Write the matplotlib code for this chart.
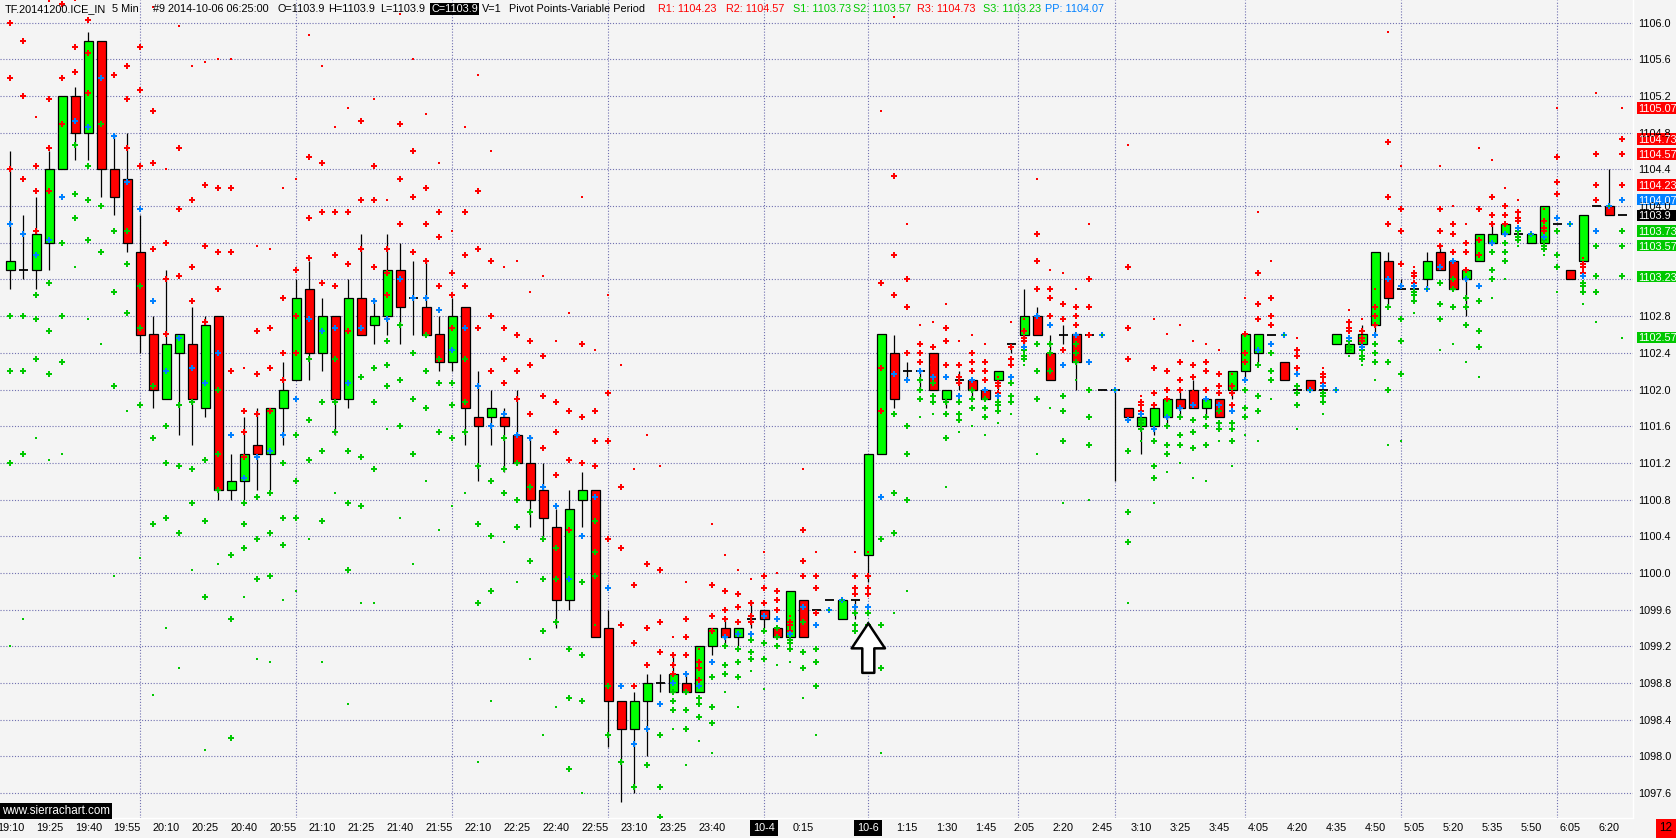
import matplotlib
matplotlib.use('Agg')
import matplotlib.pyplot as plt
import matplotlib.transforms as mtransforms
from matplotlib.patches import Rectangle

# 5 min bars, 19:10 (10-3) .. 6:25 (10-6)
opens = [1103.3, 1103.3, 1103.3, 1103.6, 1104.4, 1105.2, 1104.8, 1105.8, 1104.4, 1104.3,
         1103.5, 1102.6, 1101.9, 1102.4, 1102.5, 1101.8, 1102.8, 1100.9, 1101.0, 1101.4,
         1101.3, 1101.8, 1102.1, 1103.1, 1102.4, 1102.8, 1101.9, 1103.0, 1102.7, 1102.8,
         1103.3, 1103.0, 1102.9, 1102.6, 1102.3, 1102.9, 1101.7, 1101.7, 1101.7, 1101.5,
         1101.2, 1100.9, 1100.5, 1099.7, 1100.8, 1100.9, 1099.4, 1098.6, 1098.3, 1098.6,
         1098.8, 1098.7, 1098.8, 1098.7, 1099.2, 1099.4, 1099.3, 1099.5, 1099.6, 1099.4,
         1099.3, 1099.7, 1099.6, 1099.7, 1099.5, 1099.7, 1100.2, 1101.3, 1102.4, 1102.2,
         1102.2, 1102.4, 1101.9, 1102.1, 1102.1, 1102.0, 1102.1, 1102.5, 1102.6, 1102.8,
         1102.4, 1102.6, 1102.6, 1102.6, 1102.0, 1102.0, 1101.8, 1101.6, 1101.6, 1101.7,
         1101.9, 1102.0, 1101.8, 1101.9, 1102.0, 1102.2, 1102.4, 1102.6, 1102.3, 1102.0,
         1102.1, 1102.0, 1102.5, 1102.4, 1102.5, 1102.7, 1103.4, 1103.1, 1103.1, 1103.2,
         1103.5, 1103.4, 1103.2, 1103.4, 1103.6, 1103.7, 1103.7, 1103.6, 1103.6, 1103.8,
         1103.3, 1103.4, 1104.0, 1104.0, 1103.9]
highs = [1104.6, 1103.9, 1104.1, 1104.6, 1105.2, 1105.3, 1105.9, 1105.8, 1104.8, 1104.8,
         1103.9, 1102.8, 1103.3, 1102.6, 1102.9, 1102.8, 1102.8, 1101.3, 1101.7, 1101.8,
         1101.8, 1102.3, 1103.2, 1103.4, 1103.0, 1102.8, 1103.2, 1103.7, 1103.0, 1103.7,
         1103.6, 1103.4, 1103.4, 1102.8, 1103.0, 1102.9, 1102.2, 1102.0, 1101.8, 1102.0,
         1101.5, 1101.2, 1100.7, 1100.9, 1101.1, 1100.9, 1099.6, 1098.6, 1098.7, 1098.9,
         1098.9, 1099.1, 1098.9, 1099.2, 1099.4, 1099.5, 1099.4, 1099.7, 1099.6, 1099.4,
         1099.8, 1099.7, 1099.6, 1099.7, 1099.7, 1099.7, 1101.3, 1102.6, 1102.6, 1102.3,
         1102.2, 1102.4, 1102.0, 1102.2, 1102.1, 1102.0, 1102.2, 1102.5, 1103.1, 1102.9,
         1102.6, 1102.7, 1102.6, 1102.6, 1102.0, 1102.0, 1101.8, 1101.7, 1101.8, 1101.9,
         1102.0, 1102.1, 1101.9, 1101.9, 1102.2, 1102.6, 1102.6, 1102.6, 1102.3, 1102.0,
         1102.1, 1102.0, 1102.6, 1102.5, 1102.7, 1103.5, 1103.5, 1103.2, 1103.1, 1103.5,
         1103.6, 1103.4, 1103.3, 1103.7, 1103.8, 1103.8, 1103.7, 1103.7, 1104.0, 1103.8,
         1103.3, 1103.9, 1104.0, 1104.4, 1103.9]
lows = [1103.1, 1103.2, 1103.1, 1103.3, 1104.4, 1104.5, 1104.5, 1104.1, 1103.9, 1103.5,
        1102.4, 1101.8, 1101.9, 1101.5, 1101.4, 1101.7, 1100.8, 1100.8, 1100.8, 1100.9,
        1100.9, 1101.4, 1102.1, 1102.1, 1102.2, 1101.5, 1101.8, 1102.6, 1102.5, 1102.6,
        1102.5, 1102.6, 1102.6, 1102.2, 1102.2, 1101.4, 1101.0, 1101.4, 1101.1, 1101.2,
        1100.5, 1100.4, 1099.4, 1099.6, 1100.5, 1099.3, 1098.1, 1097.5, 1097.6, 1098.0,
        1098.7, 1098.7, 1098.7, 1098.7, 1099.1, 1099.2, 1099.2, 1099.4, 1099.4, 1099.3,
        1099.3, 1099.3, 1099.6, 1099.7, 1099.5, 1099.5, 1099.9, 1101.3, 1101.8, 1102.1,
        1102.0, 1102.0, 1101.8, 1102.0, 1101.9, 1101.9, 1102.0, 1102.4, 1102.5, 1102.6,
        1102.1, 1102.5, 1102.0, 1102.6, 1102.0, 1101.0, 1101.7, 1101.3, 1101.5, 1101.6,
        1101.7, 1101.8, 1101.7, 1101.7, 1101.9, 1102.1, 1102.3, 1102.6, 1102.1, 1102.0,
        1102.0, 1102.0, 1102.5, 1102.4, 1102.5, 1102.6, 1102.9, 1103.1, 1103.1, 1103.1,
        1103.3, 1103.1, 1102.8, 1103.4, 1103.6, 1103.7, 1103.7, 1103.6, 1103.6, 1103.8,
        1103.2, 1103.4, 1104.0, 1103.9, 1103.9]
closes = [1103.4, 1103.3, 1103.7, 1104.4, 1105.2, 1104.8, 1105.8, 1104.4, 1104.1, 1103.6,
          1102.6, 1102.0, 1102.5, 1102.6, 1101.9, 1102.7, 1100.9, 1101.0, 1101.3, 1101.3,
          1101.8, 1102.0, 1103.0, 1102.4, 1102.8, 1101.9, 1103.0, 1102.6, 1102.8, 1103.3,
          1102.9, 1103.0, 1102.6, 1102.3, 1102.8, 1101.8, 1101.6, 1101.8, 1101.6, 1101.2,
          1100.8, 1100.6, 1099.7, 1100.7, 1100.9, 1099.3, 1098.6, 1098.3, 1098.6, 1098.8,
          1098.8, 1098.9, 1098.7, 1099.2, 1099.4, 1099.3, 1099.4, 1099.5, 1099.5, 1099.3,
          1099.8, 1099.3, 1099.6, 1099.7, 1099.7, 1099.7, 1101.3, 1102.6, 1101.9, 1102.2,
          1102.2, 1102.0, 1102.0, 1102.1, 1102.0, 1101.9, 1102.2, 1102.5, 1102.8, 1102.6,
          1102.1, 1102.6, 1102.3, 1102.6, 1102.0, 1102.0, 1101.7, 1101.7, 1101.8, 1101.9,
          1101.8, 1101.8, 1101.9, 1101.7, 1102.2, 1102.6, 1102.6, 1102.6, 1102.1, 1102.0,
          1102.0, 1102.0, 1102.6, 1102.5, 1102.6, 1103.5, 1103.0, 1103.1, 1103.1, 1103.4,
          1103.3, 1103.1, 1103.3, 1103.7, 1103.7, 1103.8, 1103.7, 1103.7, 1104.0, 1103.8,
          1103.2, 1103.9, 1104.0, 1103.9, 1103.9]
# high / low / close of the 19:05 bar (not drawn, feeds the first pivot set)
prev_hlc = (1104.8, 1103.2, 1103.4)

tick_bars = [0, 3, 6, 9, 12, 15, 18, 21, 24, 27, 30, 33, 36, 39, 42, 45, 48, 51, 54,
             58, 61, 66, 69, 72, 75, 78, 81, 84, 87, 90, 93, 96, 99, 102, 105, 108,
             111, 114, 117, 120, 123]
tick_labels = ['19:10', '19:25', '19:40', '19:55', '20:10', '20:25', '20:40', '20:55',
               '21:10', '21:25', '21:40', '21:55', '22:10', '22:25', '22:40', '22:55',
               '23:10', '23:25', '23:40', '10-4', '0:15', '10-6', '1:15', '1:30', '1:45',
               '2:05', '2:20', '2:45', '3:10', '3:25', '3:45', '4:05', '4:20', '4:35',
               '4:50', '5:05', '5:20', '5:35', '5:50', '6:05', '6:20']
date_labels = ['10-4', '10-6']
hour_lines = [10, 22, 34, 46, 58, 66, 77.5, 85, 95, 107, 119]
price_ticks = [1097.6 + 0.4 * k for k in range(22)]

# current study values shown on the price scale
level_texts = ['1105.07', '1104.73', '1104.57', '1104.23', '1104.07', '1103.9',
               '1103.73', '1103.57', '1103.23', '1102.57']
level_kinds = ['r', 'r', 'r', 'r', 'p', 'c', 's', 's', 's', 's']

header_parts = [('TF.20141200.ICE_IN', 5, 'k'), ('5 Min', 112, 'k'),
                ('#9 2014-10-06 06:25:00', 153, 'k'), ('O=1103.9', 277, 'k'),
                ('H=1103.9', 328, 'k'), ('L=1103.9', 380, 'k'), ('C=1103.9', 431, 'box'),
                ('V=1', 482, 'k'), ('Pivot Points-Variable Period', 509, 'k'),
                ('R1: 1104.23', 658, 'r'), ('R2: 1104.57', 726, 'r'),
                ('S1: 1103.73', 793, 's'), ('S2: 1103.57', 853, 's'),
                ('R3: 1104.73', 917, 'r'), ('S3: 1103.23', 983, 's'),
                ('PP: 1104.07', 1045, 'p')]

RED = '#ff0000'
GREEN_DOT = '#00c800'
GREEN_BAR = '#00ff00'
BLUE = '#0080ff'
BG = '#f4f4f4'
GRID = '#7070b0'
kind_col = {'r': RED, 's': GREEN_DOT, 'p': BLUE, 'c': 'black', 'k': 'black'}

plt.rcParams['font.family'] = ['Liberation Sans', 'DejaVu Sans']
FS = 7.8

W, H = 1676, 838
fig = plt.figure(figsize=(W / 100, H / 100), dpi=100, facecolor=BG)
ax = fig.add_axes([0, 20 / H, 1633 / W, 818 / H])
ax.set_facecolor(BG)
ax.set_xlim(-10.3 / 13, (1633 - 10.3) / 13)
ax.set_ylim(1097.6 - 25 / 91.7, 1097.6 + 793 / 91.7)
ax.set_xticks([])
ax.set_yticks([])
for s in ['top', 'left']:
    ax.spines[s].set_visible(False)
for s in ['right', 'bottom']:
    ax.spines[s].set_color('white')
    ax.spines[s].set_linewidth(1)

dots = dict(linestyle=(0, (1, 1.6)), color=GRID, linewidth=0.8, zorder=1)
for p in price_ticks:
    ax.axhline(p, **dots)
for b in hour_lines:
    ax.axvline(b, **dots)

# candles
n = len(opens)
xs = list(range(n))
ax.vlines(xs, lows, highs, color='black', linewidth=0.9, zorder=2)
bw = 0.66
for i in xs:
    o, c = opens[i], closes[i]
    if abs(c - o) < 1e-9:
        ax.hlines(o, i - bw / 2, i + bw / 2, color='black', linewidth=1.3, zorder=3)
    else:
        ax.bar(i, abs(c - o), bottom=min(o, c), width=bw,
               color=GREEN_BAR if c > o else RED, edgecolor='black',
               linewidth=0.9, zorder=3)

# pivot study: levels of each bar come from the bar before it
hh = [prev_hlc[0]] + highs[:-1]
ll = [prev_hlc[1]] + lows[:-1]
cc = [prev_hlc[2]] + closes[:-1]
lv = {k: [] for k in ['pp', 'r1', 'r2', 'r3', 'r4', 's1', 's2', 's3', 's4']}
for h_, l_, c_ in zip(hh, ll, cc):
    pp = (h_ + l_ + c_) / 3
    lv['pp'].append(pp)
    lv['r1'].append(2 * pp - l_)
    lv['s1'].append(2 * pp - h_)
    lv['r2'].append(pp + (h_ - l_))
    lv['s2'].append(pp - (h_ - l_))
    lv['r3'].append(h_ + 2 * (pp - l_))
    lv['s3'].append(l_ - 2 * (h_ - pp))
    lv['r4'].append(h_ + 4 * (pp - l_))
    lv['s4'].append(l_ - 4 * (h_ - pp))

big = dict(linestyle='none', marker='P', markersize=4.3, markeredgewidth=0, zorder=5)
small = dict(linestyle='none', marker='s', markersize=1.7, markeredgewidth=0, zorder=5)
for k in ['r1', 'r2', 'r3']:
    ax.plot(xs, lv[k], color=RED, **big)
for k in ['s1', 's2', 's3']:
    ax.plot(xs, lv[k], color=GREEN_DOT, **big)
ax.plot(xs, lv['pp'], color=BLUE, **big)
ax.plot(xs, lv['r4'], color=RED, **small)
ax.plot(xs, lv['s4'], color=GREEN_DOT, **small)

# marker arrow under the 1:00 bar
ax.annotate('', xy=(66, 1099.45), xytext=(66, 1098.91),
            arrowprops=dict(arrowstyle='simple,head_length=0.75,head_width=1.0,tail_width=0.36',
                            mutation_scale=24, fc='white', ec='black', lw=1.8,
                            shrinkA=0, shrinkB=0), zorder=6)

# price scale
tr_r = mtransforms.blended_transform_factory(fig.transFigure, ax.transData)
level_vals = [float(t) for t in level_texts]
for p in price_ticks:
    # labels that sit fully under a study box are not visible
    if min(abs(p - v) for v in level_vals) < 0.045:
        continue
    fig.text(1638 / W, p, f'{p:.1f}', transform=tr_r, ha='left', va='center_baseline',
             fontsize=FS, color='black')
for t, k, v in zip(level_texts, level_kinds, level_vals):
    fig.patches.append(Rectangle((1637 / W, v - 0.062), 40 / W, 0.124, transform=tr_r,
                                 facecolor=kind_col[k], edgecolor='none', zorder=3))
    fig.text(1638 / W, v, t, transform=tr_r, ha='left', va='center_baseline', fontsize=FS,
             color='white', zorder=4)

# time scale
tr_b = mtransforms.blended_transform_factory(ax.transData, fig.transFigure)
for b, t in zip(tick_bars, tick_labels):
    if t in date_labels:
        fig.text(b, 10 / H, t, transform=tr_b, ha='center', va='center', fontsize=FS,
                 color='white', bbox=dict(boxstyle='square,pad=0.3', fc='black', ec='none'))
    else:
        fig.text(b, 10 / H, t, transform=tr_b, ha='center', va='center', fontsize=FS,
                 color='black')
fig.text(1672 / W, 10 / H, '12', ha='right', va='center', fontsize=FS + 0.6, color='black',
         bbox=dict(boxstyle='square,pad=0.3', fc=RED, ec='none'))

# watermark
fig.text(2 / W, 1 - 811 / H, 'www.sierrachart.com', ha='left', va='center', fontsize=8.4,
         color='white', bbox=dict(boxstyle='square,pad=0.2', fc='black', ec='none'))

# header line
for t, x, k in header_parts:
    if k == 'box':
        fig.text(x / W, 1 - 9 / H, t, ha='left', va='center', fontsize=FS, color='white',
                 bbox=dict(boxstyle='square,pad=0.12', fc='black', ec='none'))
    else:
        fig.text(x / W, 1 - 9 / H, t, ha='left', va='center', fontsize=FS,
                 color=kind_col[k])

fig.savefig('out.png', dpi=100, facecolor=BG)
